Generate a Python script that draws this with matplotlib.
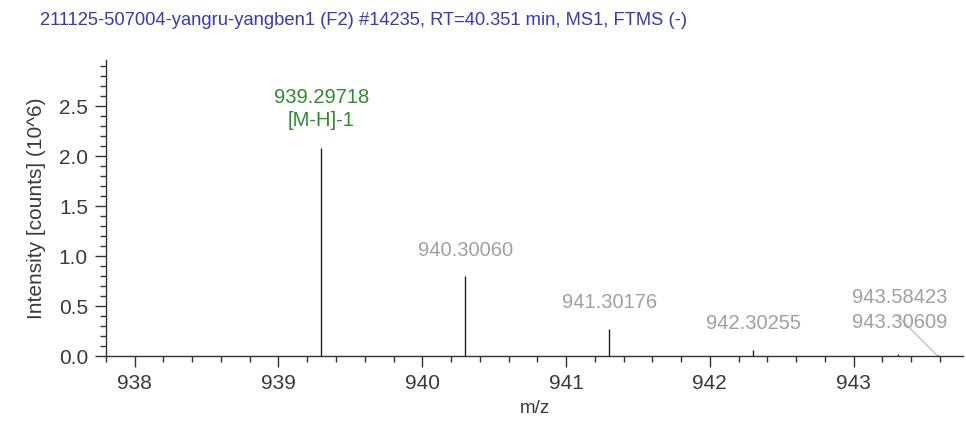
import numpy as np
import matplotlib.pyplot as plt
from matplotlib.ticker import MultipleLocator

plt.rcParams['font.family'] = ['Liberation Sans', 'DejaVu Sans']

# peak list
mz = [939.29718, 940.30060, 941.30176, 942.30255, 943.30609, 943.58423]
intensity = [2.08, 0.80, 0.27, 0.06, 0.02, 0.01]
labels = ["939.29718\n[M-H]-1", "940.30060", "941.30176", "942.30255", "943.30609", "943.58423"]
label_y = [2.475, 1.06, 0.54, 0.33, 0.34, 0.59]
label_x = [939.29718, 940.30060, 941.30176, 942.30255, 943.32, 943.32]
label_color = ["#2e8b2e", "#a0a0a0", "#a0a0a0", "#a0a0a0", "#a0a0a0", "#a0a0a0"]

fig = plt.figure(figsize=(9.66, 4.30), dpi=100)
ax = fig.add_axes([0.1097, 0.172, 0.887, 0.688])

ax.vlines(mz, 0, intensity, color="#222222", lw=1)

for y, t, c, lx in zip(label_y, labels, label_color, label_x):
    ax.text(lx, y, t, ha="center", va="center", fontsize=14.5, color=c, linespacing=1.25)

# leader line for the crowded label
ax.plot([943.30, 943.585], [0.41, 0.0], color="#b8b8b8", lw=0.8)

ax.set_xlim(937.8, 943.76)
ax.set_ylim(0, 2.96)
ax.xaxis.set_major_locator(MultipleLocator(1))
ax.xaxis.set_minor_locator(MultipleLocator(0.2))
ax.yaxis.set_major_locator(MultipleLocator(0.5))
ax.yaxis.set_minor_locator(MultipleLocator(0.1))
ax.yaxis.set_major_formatter(plt.FormatStrFormatter("%.1f"))

for s in ["top", "right"]:
    ax.spines[s].set_visible(False)
for s in ["left", "bottom"]:
    ax.spines[s].set_color("#333333")
    ax.spines[s].set_linewidth(1)

ax.tick_params(which="major", length=8, width=1, color="#333333", labelsize=15, labelcolor="#3a3a3a", pad=5)
ax.tick_params(which="minor", length=4, width=1, color="#333333")

ax.set_xlabel("m/z", fontsize=13.5, color="#3a3a3a", labelpad=5)
ax.set_ylabel("Intensity [counts] (10^6)", fontsize=15, color="#3a3a3a", labelpad=9)

fig.text(0.041, 0.953, "211125-507004-yangru-yangben1 (F2) #14235, RT=40.351 min, MS1, FTMS (-)",
         fontsize=13.2, color="#3737c4", ha="left", va="center")

fig.savefig("out.png", dpi=100)
